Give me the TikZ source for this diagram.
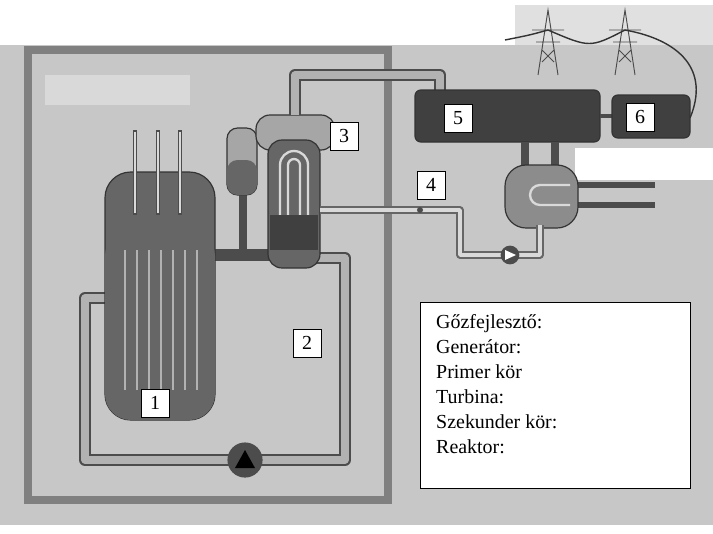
\documentclass[tikz,border=0pt]{standalone}
\usepackage{fontspec}
\setmainfont{Liberation Serif}
\begin{document}
\begin{tikzpicture}[x=0.03cm,y=-0.03cm,
  pipe/.style={line width=10pt,draw=black!70,line join=round},
  pipein/.style={line width=6pt,draw=black!30,line join=round},
  num/.style={draw=black,fill=white,line width=0.6pt,minimum width=24pt,minimum height=24pt,inner sep=0pt,font=\fontsize{17}{19}\selectfont},
  dark/.style={fill=black!60,draw=black!80,line width=1pt}]
\useasboundingbox (0,0) rectangle (713,533);
\fill[white] (0,0) rectangle (713,533);
\fill[black!22] (0,45) rectangle (713,525);
\fill[black!12] (515,5) rectangle (713,45);
\fill[white] (575,148) rectangle (713,180);
\fill[black!15] (45,75) rectangle (190,105);
% pylons
\foreach \px in {548,625}{
  \draw[black!70,line width=0.8pt] (\px-10,75)--(\px,10)--(\px+10,75) (\px-16,30)--(\px+16,30) (\px-12,42)--(\px+12,42) (\px-6,50)--(\px+6,62) (\px+6,50)--(\px-6,62);}
\draw[black!80,line width=1.2pt] (505,40) .. controls (530,35) .. (548,30) .. controls (590,48) .. (625,30) .. controls (680,40) and (710,70) .. (690,118);
% containment
\draw[black!50,line width=6pt] (28,50) rectangle (388,500);
% primary loop
\draw[pipe] (105,298) -- (85,298) -- (85,460) -- (345,460) -- (345,258) -- (300,258);
\draw[pipein] (105,298) -- (85,298) -- (85,460) -- (345,460) -- (345,258) -- (300,258);
\draw[pipe] (215,255) -- (275,255);
\draw[pipe,line width=6pt] (243,190) -- (243,255);
% pump primary
\node[circle,fill=black!70,minimum size=30pt,inner sep=0pt] (pp) at (245,460) {};
\fill[black] (235,468) -- (255,468) -- (245,450) -- cycle;
% reactor
\draw[dark,rounded corners=22pt] (105,265) -- (105,172) -- (215,172) -- (215,420) -- (105,420) -- cycle;
\fill[black!60,rounded corners=22pt] (105,230) rectangle (215,420);
\foreach \rx in {135,158,180}{\draw[black!70,line width=4pt] (\rx,130)--(\rx,215); \draw[black!15,line width=1.5pt] (\rx,132)--(\rx,213);}
\foreach \rx in {125,137,149,161,173,185,197}{\draw[black!30,line width=1.2pt] (\rx,250)--(\rx,390);}
% pressurizer
\draw[dark,fill=black!35,rounded corners=9pt] (227,128) rectangle (257,195);
\fill[black!60,rounded corners=9pt] (227,160) rectangle (257,195);
% steam generator
\draw[dark,fill=black!35,rounded corners=12pt] (256,115) rectangle (335,150);
\draw[dark,rounded corners=12pt] (268,140) rectangle (320,268);
\draw[black!15,line width=2pt] (280,220) -- (280,165) arc[start angle=180,end angle=0,radius=0.42cm] -- (308,220);
\draw[black!15,line width=2pt] (288,220) -- (288,165) arc[start angle=180,end angle=0,radius=0.18cm] -- (300,220);
\fill[black!75] (270,215) rectangle (318,250);
% steam pipe
\draw[pipe] (295,115) -- (295,75) -- (440,75) -- (440,95);
\draw[pipein] (295,115) -- (295,75) -- (440,75) -- (440,95);
% turbine & generator
\draw[dark,fill=black!75,rounded corners=5pt] (415,90) rectangle (600,142);
\draw[black!70,line width=4pt] (600,116) -- (612,116);
\draw[dark,fill=black!75,rounded corners=5pt] (612,95) rectangle (690,138);
% condenser
\draw[pipe,line width=6pt] (525,142) -- (525,168) (555,142) -- (555,168);
\draw[pipe,line width=5pt] (545,185) -- (655,185) (545,205) -- (655,205);
\draw[dark,fill=black!45,rounded corners=18pt] (505,165) rectangle (578,228);
\draw[black!15,line width=2pt] (570,185) -- (540,185) arc[start angle=90,end angle=270,radius=0.3cm] -- (570,205);
% feedwater
\draw[black!60,line width=6pt,line join=round] (540,225) -- (540,255) -- (460,255) -- (460,210) -- (320,210);
\draw[black!15,line width=3pt,line join=round] (540,225) -- (540,255) -- (460,255) -- (460,210) -- (320,210);
\node[circle,fill=black!70,minimum size=16pt,inner sep=0pt] (fp) at (510,255) {};
\fill[white] (505,250) -- (505,260) -- (516,255) -- cycle;
\fill[black!70] (420,210) circle (3);
% number labels
\node[num] (n1) at (155,403) {1};
\node[num] (n2) at (307,343) {2};
\node[num] (n3) at (344,136) {3};
\node[num] (n4) at (431,185) {4};
\node[num] (n5) at (458,118) {5};
\node[num] (n6) at (640,117) {6};
% text box
\draw[fill=white,line width=0.6pt] (420,302) rectangle (690,488);
\node[anchor=north west,align=left,inner sep=0pt,font=\fontsize{17}{21.3}\selectfont] (txt) at (436,314)
{Gőzfejlesztő:\\Generátor:\\Primer kör\\Turbina:\\Szekunder kör:\\Reaktor:};
\end{tikzpicture}
\end{document}
